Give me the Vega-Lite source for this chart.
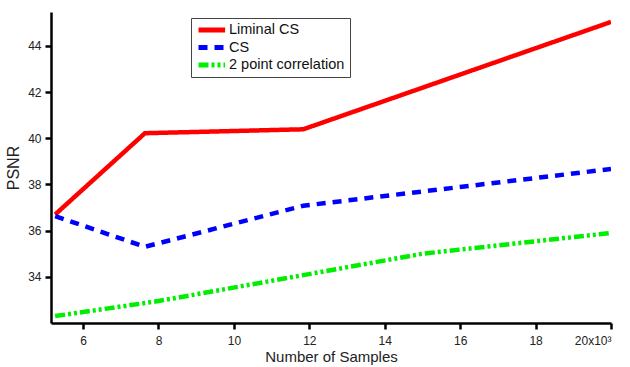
{
  "$schema": "https://vega.github.io/schema/vega-lite/v6.json",
  "width": 560,
  "height": 311,
  "autosize": {"type": "none"},
  "padding": {"left": 51, "top": 12, "right": 19, "bottom": 44},
  "background": "white",
  "config": {
    "view": {"stroke": null},
    "font": "Liberation Sans"
  },
  "data": {
    "values": [
      {"method": "Liminal CS", "samples": 5.26, "psnr": 36.7},
      {"method": "Liminal CS", "samples": 7.64, "psnr": 40.22},
      {"method": "Liminal CS", "samples": 11.84, "psnr": 40.39},
      {"method": "Liminal CS", "samples": 20.0, "psnr": 45.04},
      {"method": "CS", "samples": 5.26, "psnr": 36.63},
      {"method": "CS", "samples": 7.64, "psnr": 35.3},
      {"method": "CS", "samples": 11.84, "psnr": 37.08},
      {"method": "CS", "samples": 20.0, "psnr": 38.67},
      {"method": "2 point correlation", "samples": 5.26, "psnr": 32.3},
      {"method": "2 point correlation", "samples": 8.0, "psnr": 32.95},
      {"method": "2 point correlation", "samples": 15.0, "psnr": 35.0},
      {"method": "2 point correlation", "samples": 20.0, "psnr": 35.9}
    ]
  },
  "mark": {"type": "line", "strokeWidth": 4.5, "clip": true},
  "encoding": {
    "x": {
      "field": "samples",
      "type": "quantitative",
      "scale": {"domain": [5.15, 20], "nice": false, "zero": false},
      "axis": {
        "values": [6, 8, 10, 12, 14, 16, 18, 20],
        "labelExpr": "datum.value == 20 ? '20x10³' : datum.label",
        "title": "Number of Samples",
        "titleFontSize": 15,
        "titleFontWeight": "normal",
        "titleColor": "#222",
        "titlePadding": 3,
        "labelFontSize": 12,
        "labelColor": "#222",
        "labelPadding": 6,
        "domainColor": "black",
        "domainWidth": 2.5,
        "tickColor": "black",
        "tickWidth": 2.5,
        "tickSize": 6,
        "grid": false
      }
    },
    "y": {
      "field": "psnr",
      "type": "quantitative",
      "scale": {"domain": [32.0, 45.47], "nice": false, "zero": false},
      "axis": {
        "values": [34, 36, 38, 40, 42, 44],
        "title": "PSNR",
        "titleFontSize": 16,
        "titleFontWeight": "normal",
        "titleColor": "#222",
        "titlePadding": 6,
        "labelFontSize": 12,
        "labelColor": "#222",
        "labelPadding": 4,
        "domainColor": "black",
        "domainWidth": 2.5,
        "tickColor": "black",
        "tickWidth": 2.5,
        "tickSize": 6,
        "grid": false
      }
    },
    "color": {
      "field": "method",
      "type": "nominal",
      "scale": {
        "domain": ["Liminal CS", "CS", "2 point correlation"],
        "range": ["#ff0000", "#0000ff", "#00ee00"]
      },
      "legend": {
        "title": null,
        "orient": "none",
        "legendX": 140,
        "legendY": 6,
        "strokeColor": "#444",
        "padding": 5,
        "labelFontSize": 14.5,
        "labelColor": "#111",
        "labelOffset": 14,
        "symbolType": "M-1,0H2.8",
        "symbolSize": 196,
        "symbolStrokeWidth": 5,
        "clipHeight": 14,
        "rowPadding": 2.5,
        "fillColor": "white"
      }
    },
    "strokeDash": {
      "field": "method",
      "type": "nominal",
      "scale": {
        "domain": ["Liminal CS", "CS", "2 point correlation"],
        "range": [[1, 0], [9, 7], [10, 3, 3, 3, 3, 3]]
      },
      "legend": null
    }
  }
}
